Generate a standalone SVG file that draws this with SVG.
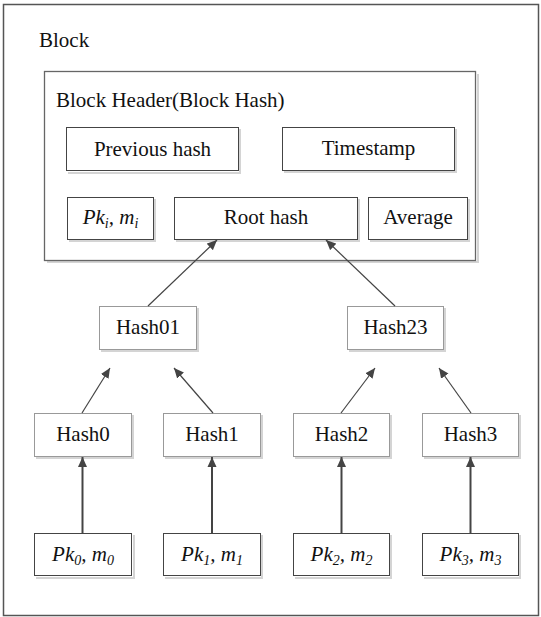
<svg xmlns="http://www.w3.org/2000/svg" width="541" height="617" viewBox="0 0 541 617">
<style>
  text { font-family: "Liberation Serif", "Times New Roman", serif; font-size: 21px; fill: #111; }
  .it { font-style: italic; }
  .sub { font-size: 14px; }
  .box { fill: #fff; stroke: #444; stroke-width: 1; }
  .dot { fill: #fff; stroke: #333; stroke-width: 1; stroke-dasharray: 1 1; }
  .shadow { fill: none; stroke: #d4d4d4; stroke-width: 2; }
  .outer { fill: #fff; stroke: #555; stroke-width: 1.5; }
  .hdr { fill: #fff; stroke: #666; stroke-width: 1.3; }
  .edge { stroke: #444; stroke-width: 1.2; fill: none; marker-end: url(#ah); }
  .edge2 { stroke: #444; stroke-width: 2; fill: none; marker-end: url(#ah2); }
</style>
<defs>
  <marker id="ah" markerUnits="userSpaceOnUse" markerWidth="12" markerHeight="10" refX="10" refY="5" orient="auto">
    <path d="M0,0.5 L10,5 L0,9.5 Z" fill="#444"/>
  </marker>
  <marker id="ah2" markerUnits="userSpaceOnUse" markerWidth="12" markerHeight="10" refX="10" refY="5" orient="auto">
    <path d="M0,0.5 L10,5 L0,9.5 Z" fill="#444"/>
  </marker>
</defs>
<rect width="541" height="617" fill="#fff"/>

<g id="block">
  <rect class="outer" x="3.5" y="4.5" width="535" height="611"/>
  <text x="39" y="47">Block</text>
</g>

<g id="header">
  <path class="shadow" d="M478,74 V262 H47"/>
  <rect class="hdr" x="44.5" y="71.5" width="431" height="189"/>
  <text x="56" y="107">Block Header(Block Hash)</text>
</g>

<g id="prevhash">
  <path class="shadow" d="M240,129 V173 H68"/>
  <rect class="box" x="66.5" y="127.5" width="172" height="43"/>
  <text x="152.5" y="156" text-anchor="middle">Previous hash</text>
</g>

<g id="timestamp">
  <path class="shadow" d="M456,129 V172 H284"/>
  <rect class="box" x="282.5" y="127.5" width="172" height="43"/>
  <text x="368.5" y="155" text-anchor="middle">Timestamp</text>
</g>

<g id="pki">
  <path class="shadow" d="M155,199 V241 H69"/>
  <rect class="box" x="67.5" y="197.5" width="86" height="42"/>
  <text x="110.5" y="224" text-anchor="middle" class="it">Pk<tspan class="sub" dy="4">i</tspan><tspan dy="-4">, m</tspan><tspan class="sub" dy="4">i</tspan></text>
</g>

<g id="roothash">
  <path class="shadow" d="M359,199 V241 H176"/>
  <rect class="box" x="174.5" y="197.5" width="183" height="42"/>
  <text x="266" y="224" text-anchor="middle">Root hash</text>
</g>

<g id="average">
  <path class="shadow" d="M469,199 V241 H370"/>
  <rect class="box" x="368.5" y="197.5" width="99" height="42"/>
  <text x="418" y="224" text-anchor="middle">Average</text>
</g>

<g id="hash01">
  <path class="shadow" d="M198,308 V351 H101"/>
  <rect class="dot" x="99.5" y="306.5" width="97" height="43"/>
  <text x="148" y="334" text-anchor="middle">Hash01</text>
</g>

<g id="hash23">
  <path class="shadow" d="M445,308 V351 H349"/>
  <rect class="dot" x="347.5" y="306.5" width="96" height="43"/>
  <text x="395.5" y="334" text-anchor="middle">Hash23</text>
</g>

<g id="hash0">
  <path class="shadow" d="M133,415 V458 H36"/>
  <rect class="dot" x="34.5" y="413.5" width="97" height="43"/>
  <text x="83" y="441" text-anchor="middle">Hash0</text>
</g>
<g id="hash1">
  <path class="shadow" d="M262,415 V458 H165"/>
  <rect class="dot" x="163.5" y="413.5" width="97" height="43"/>
  <text x="212" y="441" text-anchor="middle">Hash1</text>
</g>
<g id="hash2">
  <path class="shadow" d="M391,415 V458 H295"/>
  <rect class="dot" x="293.5" y="413.5" width="96" height="43"/>
  <text x="341.5" y="441" text-anchor="middle">Hash2</text>
</g>
<g id="hash3">
  <path class="shadow" d="M520,415 V458 H424"/>
  <rect class="dot" x="422.5" y="413.5" width="96" height="43"/>
  <text x="470.5" y="441" text-anchor="middle">Hash3</text>
</g>

<g id="pk0">
  <path class="shadow" d="M134,535 V578 H36"/>
  <rect class="box" x="34.5" y="533.5" width="97" height="42"/>
  <text x="83" y="561" text-anchor="middle" class="it">Pk<tspan class="sub" dy="4">0</tspan><tspan dy="-4">, m</tspan><tspan class="sub" dy="4">0</tspan></text>
</g>
<g id="pk1">
  <path class="shadow" d="M262,535 V578 H165"/>
  <rect class="box" x="163.5" y="533.5" width="97" height="42"/>
  <text x="212" y="561" text-anchor="middle" class="it">Pk<tspan class="sub" dy="4">1</tspan><tspan dy="-4">, m</tspan><tspan class="sub" dy="4">1</tspan></text>
</g>
<g id="pk2">
  <path class="shadow" d="M391,535 V578 H295"/>
  <rect class="box" x="293.5" y="533.5" width="96" height="42"/>
  <text x="341.5" y="561" text-anchor="middle" class="it">Pk<tspan class="sub" dy="4">2</tspan><tspan dy="-4">, m</tspan><tspan class="sub" dy="4">2</tspan></text>
</g>
<g id="pk3">
  <path class="shadow" d="M520,535 V578 H424"/>
  <rect class="box" x="422.5" y="533.5" width="96" height="42"/>
  <text x="470.5" y="561" text-anchor="middle" class="it">Pk<tspan class="sub" dy="4">3</tspan><tspan dy="-4">, m</tspan><tspan class="sub" dy="4">3</tspan></text>
</g>

<g id="connectors">
  <line class="edge" x1="148" y1="306" x2="217" y2="240"/>
  <line class="edge" x1="395" y1="306" x2="326" y2="240"/>
  <line class="edge" x1="82" y1="413" x2="110" y2="368"/>
  <line class="edge" x1="213" y1="413" x2="174" y2="368"/>
  <line class="edge" x1="341" y1="413" x2="375" y2="368"/>
  <line class="edge" x1="471" y1="413" x2="439" y2="368"/>
  <line class="edge2" x1="82.5" y1="533" x2="82.5" y2="457"/>
  <line class="edge2" x1="212" y1="533" x2="212" y2="457"/>
  <line class="edge2" x1="341.5" y1="533" x2="341.5" y2="457"/>
  <line class="edge2" x1="470.5" y1="533" x2="470.5" y2="457"/>
</g>
</svg>
